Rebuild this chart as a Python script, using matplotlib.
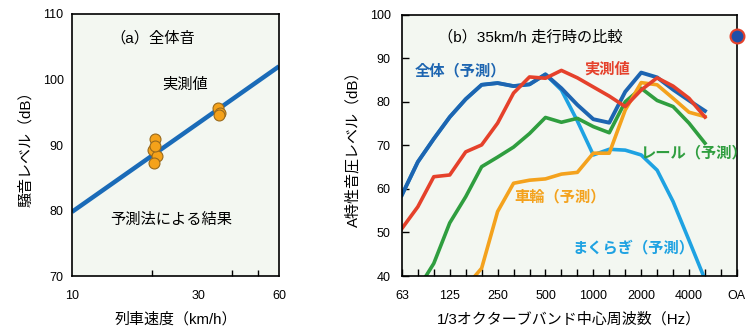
import numpy as np
import matplotlib.pyplot as plt
from matplotlib.ticker import FixedLocator, NullFormatter, FixedFormatter

plt.rcParams['font.family'] = ['Liberation Sans', 'Noto Sans CJK JP', 'DejaVu Sans']

# (a) overall noise level vs train speed
pred_speed = [10, 30, 60]
pred_level = [79.8, 93.4, 102.0]
meas_speed = [20.6, 20.2, 20.8, 20.4, 20.5, 35.5, 36.0, 35.6]
meas_level = [90.9, 89.2, 88.3, 87.2, 89.8, 95.6, 94.9, 94.6]

# (b) 1/3 octave band spectra at 35 km/h
bands = ["63", "80", "100", "125", "160", "200", "250", "315", "400", "500",
         "630", "800", "1000", "1250", "1600", "2000", "2500", "3150", "4000", "5000"]
total_pred = [58.6, 66.2, 71.5, 76.5, 80.6, 83.9, 84.3, 83.6, 84.0, 86.3,
              83.1, 79.3, 76.0, 75.2, 82.3, 86.7, 85.6, 82.8, 80.3, 77.9]
measured = [50.9, 55.9, 62.8, 63.2, 68.5, 70.1, 75.1, 82.0, 85.7, 85.4,
            87.2, 85.5, 83.4, 81.3, 78.9, 82.7, 85.5, 83.6, 80.8, 76.5]
rail_pred = [None, 37.0, 42.9, 52.2, 58.2, 65.1, 67.3, 69.6, 72.7, 76.4,
             75.3, 76.2, 74.3, 72.9, 80.0, 83.1, 80.3, 78.9, 75.1, 70.5]
wheel_pred = [None, None, None, None, 37.5, 41.8, 54.8, 61.3, 62.0, 62.3,
              63.4, 63.8, 68.2, 68.2, 78.1, 84.4, 83.9, 80.8, 77.6, 76.6]
sleeper_pred = [58.6, 66.2, 71.5, 76.5, 80.6, 83.9, 84.3, 83.6, 84.0, 86.3,
                82.7, 75.6, 67.8, 69.1, 68.9, 67.8, 64.3, 57.1, 48.2, 39.2]
oa_measured = 95.0

tick_labels = ["63", "125", "250", "500", "1000", "2000", "4000", "OA"]

bg = "#f3f7f1"
c_blue = "#1d65b1"
c_red = "#e5412b"
c_green = "#2f9e3f"
c_orange = "#f4a21d"
c_lblue = "#1ea2e2"

fig = plt.figure(figsize=(7.54, 3.33), dpi=100)

# ---- left panel
ax1 = fig.add_axes([0.0955, 0.171, 0.2745, 0.787])
ax1.set_facecolor(bg)
ax1.set_xscale("log")
ax1.plot(pred_speed, pred_level, color="#1a6bb8", lw=3.2, solid_capstyle="butt", zorder=2)
ax1.scatter(meas_speed, meas_level, s=62, color="#f5a21a", edgecolor="#9a6a1c",
            linewidths=0.8, zorder=3)
ax1.set_xlim(10, 60)
ax1.set_ylim(70, 110)
ax1.xaxis.set_major_locator(FixedLocator([10, 30, 60]))
ax1.xaxis.set_major_formatter(FixedFormatter(["10", "30", "60"]))
ax1.xaxis.set_minor_locator(FixedLocator([20, 40, 50]))
ax1.xaxis.set_minor_formatter(NullFormatter())
ax1.set_yticks([70, 80, 90, 100, 110])
ax1.tick_params(axis="x", which="major", direction="in", length=0, pad=10, labelsize=9)
ax1.tick_params(axis="x", which="minor", direction="in", length=4, width=1)
ax1.tick_params(axis="y", direction="in", length=0, pad=6, labelsize=9)
for s in ax1.spines.values():
    s.set_linewidth(1.2)
ax1.text(0.39, 0.908, "（a）全体音", ha="center", va="center", fontsize=11,
         transform=ax1.transAxes)
ax1.text(0.546, 0.729, "実測値", ha="center", va="center", fontsize=11,
         transform=ax1.transAxes)
ax1.text(0.48, 0.214, "予測法による結果", ha="center", va="center", fontsize=11,
         transform=ax1.transAxes)
ax1.set_xlabel("列車速度（km/h）", fontsize=10.8, labelpad=7)
ax1.set_ylabel("騒音レベル（dB）", fontsize=10.8, labelpad=7)

# ---- right panel
ax2 = fig.add_axes([0.533, 0.171, 0.4443, 0.785])
ax2.set_facecolor(bg)
x = np.arange(len(bands))


def series(vals):
    return np.array([np.nan if v is None else v for v in vals], dtype=float)


ax2.plot(x, series(sleeper_pred), color=c_lblue, lw=2.6)
ax2.plot(x, series(rail_pred), color=c_green, lw=2.6)
ax2.plot(x, series(wheel_pred), color=c_orange, lw=2.6)
ax2.plot(x, series(total_pred), color=c_blue, lw=2.8)
ax2.plot(x, series(measured), color=c_red, lw=2.6)
ax2.plot([len(bands) + 1], [oa_measured], "o", ms=10, mfc="#1f4fa8", mec=c_red,
         mew=1.5, clip_on=False, zorder=5)

ax2.set_xlim(0, len(bands) + 1)
ax2.set_ylim(40, 100)
ax2.xaxis.set_major_locator(FixedLocator(np.arange(0, 22, 3)))
ax2.xaxis.set_major_formatter(FixedFormatter(tick_labels))
ax2.xaxis.set_minor_locator(FixedLocator(np.arange(0, 22)))
ax2.tick_params(axis="x", which="both", direction="in", length=5, width=1, pad=10,
                labelsize=9)
ax2.set_yticks([40, 50, 60, 70, 80, 90, 100])
ax2.tick_params(axis="y", direction="in", length=5, width=1, pad=8, labelsize=9)
for s in ax2.spines.values():
    s.set_linewidth(1.2)

ax2.text(0.384, 0.912, "（b）35km/h 走行時の比較", ha="center", va="center", fontsize=11,
         transform=ax2.transAxes)
ax2.text(0.039, 0.785, "全体（予測）", color=c_blue, fontsize=11, fontweight="bold",
         ha="left", va="center", transform=ax2.transAxes)
ax2.text(0.546, 0.789, "実測値", color=c_red, fontsize=11, fontweight="bold",
         ha="left", va="center", transform=ax2.transAxes)
ax2.text(0.71, 0.471, "レール（予測）", color=c_green, fontsize=11, fontweight="bold",
         ha="left", va="center", transform=ax2.transAxes)
ax2.text(0.337, 0.303, "車輪（予測）", color=c_orange, fontsize=11, fontweight="bold",
         ha="left", va="center", transform=ax2.transAxes)
ax2.text(0.51, 0.107, "まくらぎ（予測）", color=c_lblue, fontsize=11, fontweight="bold",
         ha="left", va="center", transform=ax2.transAxes)
ax2.set_xlabel("1/3オクターブバンド中心周波数（Hz）", fontsize=10.8, labelpad=7)
ax2.set_ylabel("A特性音圧レベル（dB）", fontsize=10.8, labelpad=7)

fig.savefig("out.png", dpi=100)
